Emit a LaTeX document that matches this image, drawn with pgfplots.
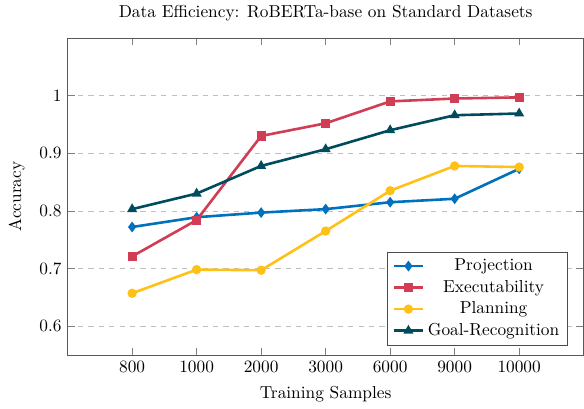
\documentclass[border=0pt]{standalone}
\usepackage{pgfplots}
\pgfplotsset{compat=1.18}
\definecolor{cblue}{RGB}{0,114,189}
\definecolor{cred}{RGB}{209,61,84}
\definecolor{cyellow}{RGB}{255,193,22}
\definecolor{cteal}{RGB}{0,75,92}
\begin{document}
\begin{tikzpicture}
\begin{axis}[
  scale only axis,
  width=298pt, height=183pt,
  xmin=-1, xmax=7,
  ymin=0.55, ymax=1.1,
  xtick={0,1,2,3,4,5,6},
  xticklabels={800,1000,2000,3000,6000,9000,10000},
  ytick={0.6,0.7,0.8,0.9,1},
  yticklabels={0.6,0.7,0.8,0.9,1},
  ymajorgrids,
  grid style={dashed, gray!50},
  axis line style={black!65},
  every tick/.style={black!50},
  title={Data Efficiency: RoBERTa-base on Standard Datasets},
  xlabel={Training Samples},
  ylabel={Accuracy},
  ylabel style={inner ysep=5pt},
  xlabel style={inner ysep=4pt},
  legend pos=south east,
  legend cell align=center,
  legend style={draw=black!70, font=\normalsize},
  every axis plot/.append style={line width=1.5pt, mark size=1.9pt},
]
\addplot[color=cblue, mark=diamond*] coordinates {(0,0.772) (1,0.789) (2,0.797) (3,0.803) (4,0.815) (5,0.821) (6,0.873)};
\addlegendentry{Projection}
\addplot[color=cred, mark=square*] coordinates {(0,0.721) (1,0.784) (2,0.930) (3,0.952) (4,0.990) (5,0.995) (6,0.997)};
\addlegendentry{Executability}
\addplot[color=cyellow, mark=*] coordinates {(0,0.657) (1,0.698) (2,0.697) (3,0.765) (4,0.835) (5,0.878) (6,0.876)};
\addlegendentry{Planning}
\addplot[color=cteal, mark=triangle*] coordinates {(0,0.803) (1,0.830) (2,0.878) (3,0.907) (4,0.940) (5,0.966) (6,0.969)};
\addlegendentry{Goal-Recognition}
\end{axis}
\end{tikzpicture}
\end{document}
